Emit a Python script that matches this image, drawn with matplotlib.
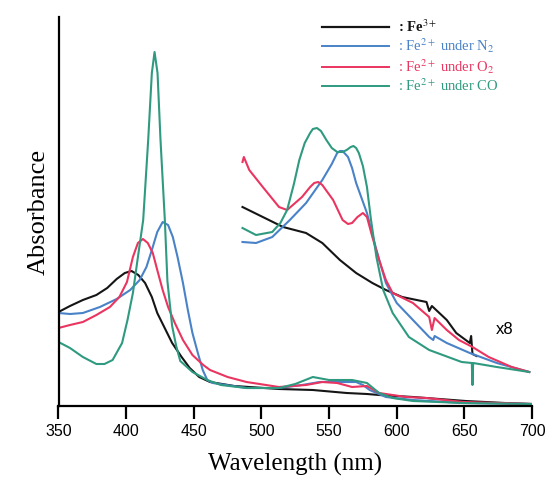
import matplotlib
matplotlib.use("Agg")
import matplotlib.pyplot as plt
from matplotlib.lines import Line2D

plt.rcParams['mathtext.fontset'] = 'stix'

# ---- data (arbitrary absorbance units) ----
fe3_wl = [350, 358.5, 368, 378, 386, 393, 399, 404, 409, 414, 419, 423, 428.5, 434, 441, 447, 454, 462,
          480, 513, 538, 563, 578, 587, 612, 651, 680, 700]
fe3_ab = [94, 100, 106, 111, 118, 127, 133, 135, 131, 123, 109, 93, 78, 63, 49, 38, 29, 24,
          20, 17, 16, 13, 12, 11, 9, 5, 3, 2]

n2_wl = [350, 358.5, 368, 380.6, 393, 403, 410, 415, 419, 423, 427, 431, 434.5, 438, 442, 445.6, 449, 453,
         456.6, 460, 464, 489, 513, 530, 543, 558, 570, 575, 580, 592, 612, 649, 700]
n2_ab = [93, 92, 93, 99, 107, 116, 126, 139, 156, 174, 184, 181, 169, 149, 123, 96, 73, 53,
         36, 26, 23, 18, 18, 21, 24, 24, 24, 21, 16, 9, 6, 3, 2]

o2_wl = [350, 358.5, 368, 378, 388, 395, 400.6, 405, 408.7, 412.4, 416, 419.7, 423.4, 427, 431, 436, 442,
         449, 457, 462, 475, 489, 513, 533, 545, 556, 567, 578, 587, 607, 622, 649, 700]
o2_ab = [78, 81, 84, 91, 99, 109, 124, 149, 163, 167, 163, 153, 134, 116, 99, 83, 66,
         51, 41, 36, 29, 24, 19, 21, 24, 23, 19, 20, 13, 9, 8, 4, 2]

co_wl = [350, 358.5, 368, 378, 384, 390, 397, 401, 405, 408.7, 412.6, 416.3, 419, 421, 423.2, 425.4, 428.6,
         430.5, 434, 437, 440, 449, 460, 470, 489, 513, 525, 538, 550, 567, 578, 587, 597, 612, 649, 700]
co_ab = [64, 58, 49, 42, 42, 46, 63, 86, 113, 149, 186, 266, 333, 354, 333, 266, 186,
         125, 80, 60, 45, 34, 26, 21, 18, 18, 22, 29, 26, 26, 23, 13, 8, 5, 3, 2]

# x8 magnified Q-band region
fe3x8_wl = [486, 501, 516, 533, 545, 558, 570, 582, 592, 604, 622, 624, 626, 637, 644, 654, 655, 656, 659]
fe3x8_ab = [199, 189, 179, 173, 163, 146, 133, 123, 116, 109, 104, 95, 100, 86, 73, 63, 70, 52, 50]

n2x8_wl = [486, 496, 508, 521, 533, 545, 552, 556, 558, 560, 562, 564, 567, 570, 578, 585, 592, 600, 612,
           624, 627, 628, 637, 654, 674, 698]
n2x8_ab = [164, 163, 169, 186, 203, 226, 242, 253, 255, 255, 252, 249, 238, 223, 193, 156, 123, 103, 86,
           69, 66, 70, 63, 53, 43, 34]

o2x8_wl = [486, 487, 491, 501, 513, 519, 530, 536, 539, 542, 545, 553, 560, 564, 567, 571, 575, 578, 582,
           587, 592, 597, 612, 624, 626, 628, 637, 646, 656, 668, 685, 698]
o2x8_ab = [244, 249, 236, 219, 199, 196, 209, 219, 223, 224, 221, 206, 186, 182, 183, 189, 193, 189, 169,
           146, 126, 113, 103, 89, 76, 88, 76, 66, 59, 49, 39, 34]

cox8_wl = [486, 496, 508, 514, 519, 524, 528, 532, 536, 538, 541, 544, 548, 552, 556, 560, 563, 566, 568,
           570, 572, 575, 578, 581, 585, 590, 597, 609, 624, 648, 655.5, 656, 656.5, 674, 698]
cox8_ab = [178, 171, 174, 183, 196, 222, 246, 263, 273, 277, 278, 275, 266, 258, 254, 254, 256, 259, 260,
           258, 253, 240, 219, 186, 149, 116, 93, 69, 56, 44, 43, 21, 43, 39, 34]

labels = [r': Fe$^{3+}$', r': Fe$^{2+}$ under N$_2$', r': Fe$^{2+}$ under O$_2$', r': Fe$^{2+}$ under CO']
colors = ['#151515', '#4a82c8', '#ea3560', '#2f9a80']
xticks = [350, 400, 450, 500, 550, 600, 650, 700]

fig = plt.figure(figsize=(5.48, 4.82), dpi=100)
ax = fig.add_axes([58.5/548, 76/482, (532-58.5)/548, 389/482])

lw = 1.5
series = [(fe3_wl, fe3_ab, fe3x8_wl, fe3x8_ab),
          (n2_wl, n2_ab, n2x8_wl, n2x8_ab),
          (o2_wl, o2_ab, o2x8_wl, o2x8_ab),
          (co_wl, co_ab, cox8_wl, cox8_ab)]
for (w, a, w8, a8), c in zip(series, colors):
    ax.plot(w, a, color=c, lw=lw, solid_joinstyle='round')
    ax.plot(w8, a8, color=c, lw=lw, solid_joinstyle='round')

ax.set_xlim(350, 700)
ax.set_ylim(0, 389)
ax.spines['top'].set_visible(False)
ax.spines['right'].set_visible(False)
ax.spines['left'].set_linewidth(1.6)
ax.spines['bottom'].set_linewidth(1.6)
ax.set_yticks([])
ax.set_xticks(xticks)
ax.set_xticklabels([str(t) for t in xticks], fontfamily='Liberation Sans', fontsize=11.5)
ax.tick_params(axis='x', direction='out', length=9, width=1.6, pad=4)

ax.set_xlabel('Wavelength (nm)', fontfamily='Liberation Serif', fontsize=18, labelpad=10)
ax.set_ylabel('Absorbance', fontfamily='Liberation Serif', fontsize=19, labelpad=6)

ax.text(680, 77, 'x8', fontfamily='Liberation Sans', fontsize=12, ha='center', va='center')

handles = [Line2D([], [], color=c, lw=1.6 if i == 0 else 1.4) for i, c in enumerate(colors)]
leg = ax.legend(handles, labels, loc='upper left', bbox_to_anchor=(315/548, 1 - 11/482),
                bbox_transform=fig.transFigure, frameon=False, handlelength=4.6,
                handletextpad=0.6, labelspacing=0.12, borderpad=0,
                prop={'family': 'Liberation Serif', 'size': 10.5})
for i, (t, c) in enumerate(zip(leg.get_texts(), colors)):
    t.set_color(c)
    if i == 0:
        t.set_fontweight('bold')

fig.savefig('out.png', dpi=100)
